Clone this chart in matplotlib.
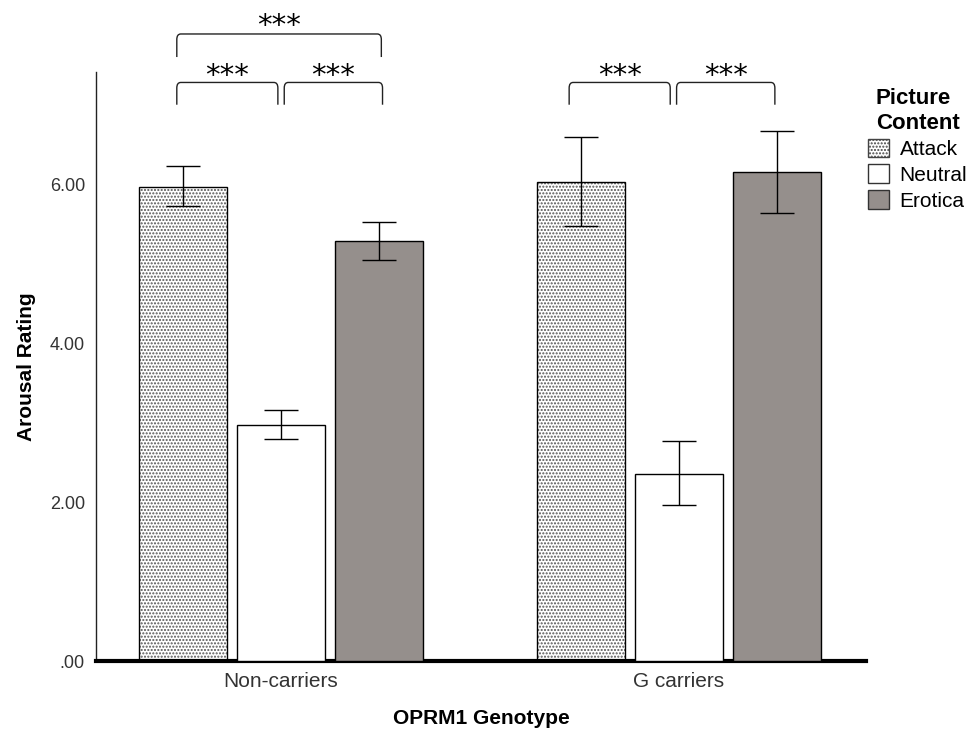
import matplotlib.pyplot as plt
import numpy as np
from matplotlib.patches import Patch
from matplotlib.path import Path
from matplotlib.patches import PathPatch

plt.rcParams['font.family'] = ['Liberation Sans', 'DejaVu Sans']

# Daten
gruppen = ["Non-carriers", "G carriers"]
inhalte = ["Attack", "Neutral", "Erotica"]
mittel = {
    "Attack": [5.97, 6.03],
    "Neutral": [2.97, 2.35],
    "Erotica": [5.28, 6.15],
}
fehler_oben = {
    "Attack": [6.23, 6.59],
    "Neutral": [3.16, 2.77],
    "Erotica": [5.53, 6.67],
}
fehler_unten = {
    "Attack": [5.72, 5.47],
    "Neutral": [2.79, 1.96],
    "Erotica": [5.04, 5.64],
}
y_ticks = [0, 2, 4, 6]
y_tick_labels = [".00", "2.00", "4.00", "6.00"]

# Signifikanz-Klammern: (Gruppe, Inhalt links, Inhalt rechts, Ebene)
klammern = [
    (0, "Attack", "Neutral", 0),
    (0, "Neutral", "Erotica", 0),
    (0, "Attack", "Erotica", 1),
    (1, "Attack", "Neutral", 0),
    (1, "Neutral", "Erotica", 0),
]

fig = plt.figure(figsize=(9.69, 7.36), dpi=100)
ax = fig.add_axes([0.0991, 0.1019, 0.7946, 0.8001])

x = np.arange(len(gruppen))
breite = 0.221
abstand = 0.247
offsets = {"Attack": -abstand, "Neutral": 0.0, "Erotica": abstand}

for inhalt in inhalte:
    pos = x + offsets[inhalt]
    werte = np.array(mittel[inhalt])
    if inhalt == "Attack":
        # Punktraster, danach schwarzer Rand
        ax.bar(pos, werte, breite, color="white", hatch=".....",
               edgecolor="#555555", linewidth=0, zorder=2)
        ax.bar(pos, werte, breite, color="none", edgecolor="black",
               linewidth=1.0, zorder=3)
    elif inhalt == "Neutral":
        ax.bar(pos, werte, breite, color="white", edgecolor="black",
               linewidth=1.0, zorder=3)
    else:
        ax.bar(pos, werte, breite, color="#958f8c", edgecolor="black",
               linewidth=1.0, zorder=3)
    oben = np.array(fehler_oben[inhalt]) - werte
    unten = werte - np.array(fehler_unten[inhalt])
    ax.errorbar(pos, werte, yerr=[unten, oben], fmt="none", ecolor="black",
                elinewidth=1.0, capsize=12, capthick=1.0, zorder=4)


def klammer(x1, x2, y_unten, y_oben, text_y):
    dx = 0.01
    dy = 0.07
    verts = [(x1, y_unten), (x1, y_oben - dy), (x1, y_oben), (x1 + dx, y_oben),
             (x2 - dx, y_oben), (x2, y_oben), (x2, y_oben - dy), (x2, y_unten)]
    codes = [Path.MOVETO, Path.LINETO, Path.CURVE3, Path.CURVE3,
             Path.LINETO, Path.CURVE3, Path.CURVE3, Path.LINETO]
    p = PathPatch(Path(verts, codes), facecolor="none", edgecolor="#222222",
                  linewidth=1.0, clip_on=False)
    ax.add_patch(p)
    ax.text((x1 + x2) / 2, text_y, "***", ha="center", va="center",
            fontsize=21, family="DejaVu Sans", clip_on=False)


for g, links, rechts, ebene in klammern:
    verschiebung = 0.0 if g == 0 else -0.014
    x1 = x[g] + offsets[links] - 0.015 + verschiebung
    x2 = x[g] + offsets[rechts] + (0.005 if ebene == 1 else -0.008) + verschiebung
    if links == "Neutral":
        x1 = x[g] + offsets[links] + 0.008 + verschiebung
        x2 = x[g] + offsets[rechts] + 0.008 + verschiebung
    if ebene == 0:
        klammer(x1, x2, 7.0, 7.28, 7.36)
    else:
        klammer(x1, x2, 7.6, 7.89, 7.99)

ax.set_xlim(-0.465, 1.47)
ax.set_ylim(0, 7.41)
ax.set_xticks(x)
ax.set_xticklabels(gruppen, fontsize=15, color="#333333")
ax.set_yticks(y_ticks)
ax.set_yticklabels(y_tick_labels, fontsize=13, color="#333333")
ax.tick_params(axis="both", length=0, pad=8)

ax.spines["top"].set_visible(False)
ax.spines["right"].set_visible(False)
ax.spines["left"].set_linewidth(1.0)
ax.spines["left"].set_color("#222222")
ax.spines["bottom"].set_linewidth(3.0)
ax.spines["bottom"].set_color("black")

ax.set_xlabel("OPRM1 Genotype", fontsize=15, fontweight="bold", labelpad=13)
ax.set_ylabel("Arousal Rating", fontsize=15, fontweight="bold", labelpad=10)

handles = [
    Patch(facecolor="white", hatch=".....", edgecolor="#444444", linewidth=1.0),
    Patch(facecolor="white", edgecolor="#333333", linewidth=1.0),
    Patch(facecolor="#958f8c", edgecolor="#333333", linewidth=1.0),
]
fig.legend(handles, inhalte, loc="upper left", bbox_to_anchor=(0.896, 0.880),
           frameon=False, fontsize=15, title="Picture\nContent",
           title_fontproperties={"weight": "bold", "size": 16},
           handlelength=1.0, handleheight=1.0, handletextpad=0.5,
           labelspacing=0.25, borderpad=0, borderaxespad=0)

fig.savefig("out.png", dpi=100)
